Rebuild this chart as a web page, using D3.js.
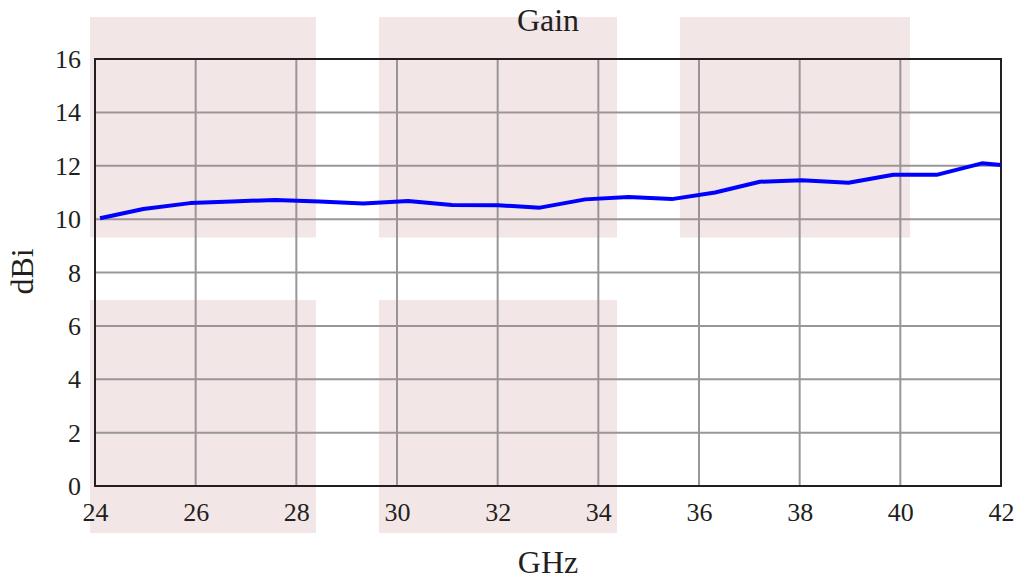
<!DOCTYPE html>
<html><head><meta charset="utf-8">
<script src="https://cdn.jsdelivr.net/npm/d3@7"></script>
<style>body{margin:0;background:#fff}svg{display:block}text{font-family:"Liberation Serif","Times New Roman",serif;fill:#231f20}</style>
</head><body><svg id="c" width="1017" height="580"></svg>
<script>
const freqGHz = [24.10,24.96,25.89,26.72,27.58,28.46,29.33,30.22,31.09,32.01,32.84,33.74,34.60,35.46,36.32,37.21,38.04,38.97,39.86,40.72,41.62,42.0];
const gainDBi = [10.03,10.38,10.60,10.66,10.72,10.66,10.59,10.68,10.53,10.52,10.43,10.74,10.83,10.75,11.00,11.40,11.46,11.36,11.66,11.66,12.09,12.03];
const xTicks = [24,26,28,30,32,34,36,38,40,42];
const yTicks = [0,2,4,6,8,10,12,14,16];
const titleText = "Gain", xLabel = "GHz", yLabel = "dBi";

const svg = d3.select("#c");
const m = {l:95, r:1001, t:59, b:486};
const x = d3.scaleLinear().domain([24,42]).range([m.l, m.r]);
const y = d3.scaleLinear().domain([0,16]).range([m.b, m.t]);

// background watermark blocks
const blocks = [[90,17,316,237.5],[379,17,617,237.5],[680,17,910,237.5],[90,300,316,533],[379,300,617,533]];
svg.append("g").selectAll("rect").data(blocks).join("rect")
  .attr("x",d=>d[0]).attr("y",d=>d[1]).attr("width",d=>d[2]-d[0]).attr("height",d=>d[3]-d[1])
  .attr("fill","#f3e6e7");

// grid
const g = svg.append("g");
g.selectAll(".vx").data(xTicks.slice(1,-1)).join("line")
  .attr("x1",d=>x(d)).attr("x2",d=>x(d)).attr("y1",m.t).attr("y2",m.b)
  .attr("stroke","#9a9599").attr("stroke-width",2);
g.selectAll(".hy").data(yTicks.slice(1,-1)).join("line")
  .attr("y1",d=>y(d)).attr("y2",d=>y(d)).attr("x1",m.l).attr("x2",m.r)
  .attr("stroke","#9a9599").attr("stroke-width",2);

// frame
svg.append("rect").attr("x",m.l).attr("y",m.t).attr("width",m.r-m.l).attr("height",m.b-m.t)
  .attr("fill","none").attr("stroke","#231f20").attr("stroke-width",2);

// axes
const xa = svg.append("g").attr("transform",`translate(0,${m.b})`)
  .call(d3.axisBottom(x).tickValues(xTicks).tickSize(0).tickPadding(35).tickFormat(d3.format("d")));
xa.select(".domain").remove();
xa.selectAll("text").attr("dy","0").style("font-size","26px").attr("fill","#231f20");
const ya = svg.append("g").attr("transform",`translate(${m.l},0)`)
  .call(d3.axisLeft(y).tickValues(yTicks).tickSize(0).tickPadding(14).tickFormat(d3.format("d")));
ya.select(".domain").remove();
ya.selectAll("text").attr("dy","0.33em").style("font-size","26px").attr("fill","#231f20");

// line
svg.append("path").datum(freqGHz.map((f,i)=>[f,gainDBi[i]]))
  .attr("d", d3.line().x(d=>x(d[0])).y(d=>y(d[1])))
  .attr("fill","none").attr("stroke","#0000ff").attr("stroke-width",4).attr("stroke-linejoin","round");

// labels
svg.append("text").attr("x",(m.l+m.r)/2).attr("y",31).attr("text-anchor","middle").style("font-size","32px").text(titleText);
svg.append("text").attr("x",(m.l+m.r)/2).attr("y",573).attr("text-anchor","middle").style("font-size","32px").text(xLabel);
svg.append("text").attr("transform","translate(33,271.5) rotate(-90)").attr("text-anchor","middle").style("font-size","32px").text(yLabel);
</script></body></html>
